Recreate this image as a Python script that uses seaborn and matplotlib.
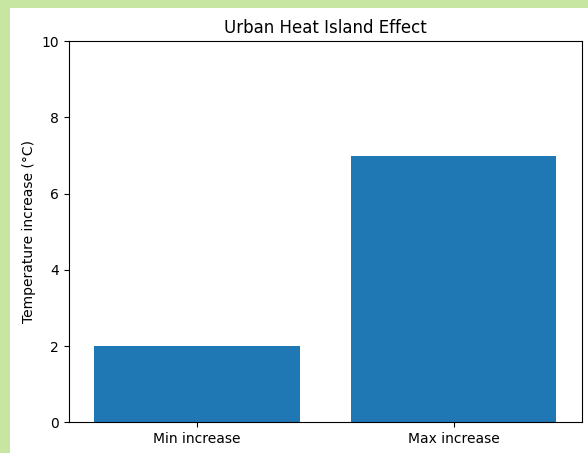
import matplotlib
matplotlib.use('Agg')
import matplotlib.pyplot as plt
import seaborn as sns
import pandas as pd

categories = ["Min increase", "Max increase"]
increase = [2, 7]

df = pd.DataFrame({"label": categories, "value": increase})

fig = plt.figure(figsize=(5.88, 4.53), dpi=100)
fig.patch.set_facecolor('#c6e6a1')
# white panel inside the green screenshot border
fig.patches.append(plt.Rectangle((10 / 588, 0), 1, (453 - 8) / 453,
                                 transform=fig.transFigure, facecolor='white',
                                 edgecolor='none', zorder=-10))
ax = fig.add_axes([0.117, 0.068, 0.873, 0.841])

sns.barplot(data=df, x="label", y="value", color='#1f77b4', saturation=1, ax=ax)
ax.set_xlim(-0.5, 1.5)
ax.set_ylim(0, 10)
ax.set_yticks([0, 2, 4, 6, 8, 10])
ax.set_title("Urban Heat Island Effect")
ax.set_xlabel("")
ax.set_ylabel("Temperature increase (°C)")

plt.savefig("out.png", dpi=100, facecolor=fig.get_facecolor())
